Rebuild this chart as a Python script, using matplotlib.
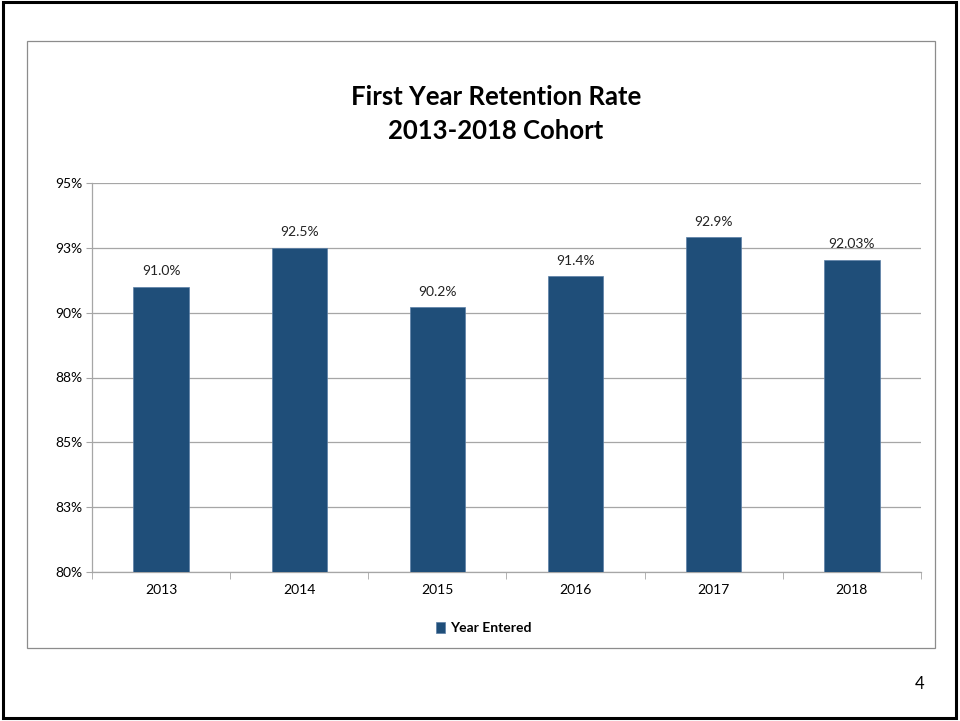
import matplotlib.pyplot as plt
from matplotlib.patches import Rectangle
import numpy as np

years = ['2013', '2014', '2015', '2016', '2017', '2018']
retention = [91.0, 92.5, 90.2, 91.4, 92.9, 92.03]
bar_labels = ['91.0%', '92.5%', '90.2%', '91.4%', '92.9%', '92.03%']
yticks = [80, 82.5, 85, 87.5, 90, 92.5, 95]
ytick_labels = ['80%', '83%', '85%', '88%', '90%', '93%', '95%']
y_floor = 80

W, H = 960, 721
bar_color = '#1F4E79'
grid_color = '#A6A6A6'

plt.rcParams['font.family'] = ['Lato', 'DejaVu Sans']

fig = plt.figure(figsize=(W / 100, H / 100), dpi=100)

# slide border and chart frame
fig.patches.append(Rectangle((3 / W, 3 / H), 953 / W, 716 / H, transform=fig.transFigure,
                             fill=False, edgecolor='black', linewidth=2.2))
fig.patches.append(Rectangle((27 / W, 1 - 648 / H), 908 / W, 607 / H, transform=fig.transFigure,
                             fill=False, edgecolor='#8C8C8C', linewidth=0.9))

ax = fig.add_axes([92 / W, 1 - 572 / H, (921 - 92) / W, (572 - 183) / H])
x = np.arange(len(years))
heights = np.array(retention) - y_floor
ax.bar(x, heights, width=0.4, bottom=y_floor, color=bar_color, edgecolor='#5B7FA6',
       linewidth=0.5, zorder=3, label='Year Entered')
ax.bar_label(ax.containers[0], labels=bar_labels, padding=7, fontsize=10, color='#222222')

ax.set_ylim(80, 95)
ax.set_xlim(-0.5, len(years) - 0.5)
ax.set_yticks(yticks)
ax.set_yticklabels(ytick_labels, fontsize=10)
ax.yaxis.grid(True, color=grid_color, linewidth=0.9, zorder=0)
ax.tick_params(axis='y', length=4, color=grid_color, pad=3)

ax.set_xticks(x)
ax.set_xticklabels(years, fontsize=10)
ax.set_xticks(np.arange(-0.5, len(years)), minor=True)
ax.tick_params(axis='x', which='major', length=0, pad=9)
ax.tick_params(axis='x', which='minor', length=5, color=grid_color)

for side in ['top', 'right']:
    ax.spines[side].set_visible(False)
for side in ['left', 'bottom']:
    ax.spines[side].set_color(grid_color)
    ax.spines[side].set_linewidth(0.9)

fig.text(496 / W, 1 - 97 / H, 'First Year Retention Rate', ha='center', va='center',
         fontsize=18.5, fontweight='bold')
fig.text(496 / W, 1 - 131 / H, '2013-2018 Cohort', ha='center', va='center',
         fontsize=18.5, fontweight='bold')

fig.legend(loc='center', bbox_to_anchor=(484 / W, 1 - 628 / H), frameon=False,
           prop={'weight': 'bold', 'size': 10}, handlelength=0.6,
           handleheight=0.8, handletextpad=0.4)

fig.text(920 / W, 1 - 684 / H, '4', ha='center', va='center', fontsize=12)

fig.savefig('out.png', dpi=100)
